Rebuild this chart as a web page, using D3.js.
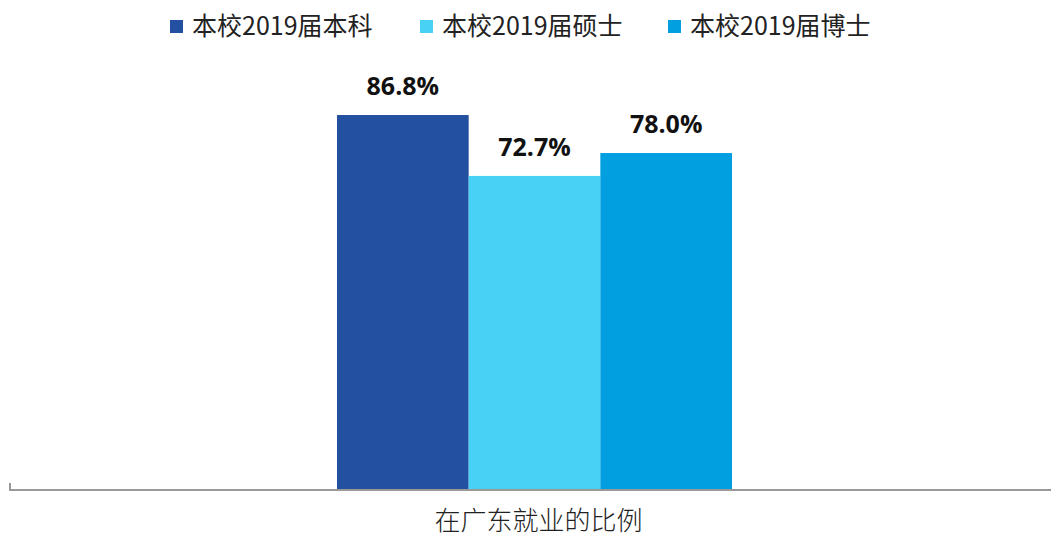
<!DOCTYPE html>
<html>
<head>
<meta charset="utf-8">
<script src="https://cdn.jsdelivr.net/npm/d3@7"></script>
<style>
  body { margin: 0; background: #fff; }
  svg { display: block; }
</style>
</head>
<body>
<svg></svg>
<script>
// Data
var categories = ["在广东就业的比例"];
var seriesNames = ["本校2019届本科", "本校2019届硕士", "本校2019届博士"];
var seriesValues = [86.8, 72.7, 78.0];
var colors = ["#2350a0", "#48d1f3", "#029fe0"];

var w = 1051, h = 540;
var left = 10, right = 1051, baseY = 490, topY = 58;

var svg = d3.select("svg").attr("width", w).attr("height", h);

// Scales
var x0 = d3.scaleBand().domain(categories).range([left + 8, right])
    .paddingInner(0).paddingOuter(0.8076);
var x1 = d3.scaleBand().domain(seriesNames).range([0, x0.bandwidth()]).padding(0);
var y = d3.scaleLinear().domain([0, 100]).range([baseY, topY]);

var group = svg.append("g").attr("transform", "translate(" + x0(categories[0]) + ",0)");

// Bars
group.selectAll("rect")
    .data(seriesValues)
    .enter().append("rect")
    .attr("x", function (d, i) { return x1(seriesNames[i]); })
    .attr("y", function (d) { return y(d); })
    .attr("width", x1.bandwidth())
    .attr("height", function (d) { return y(0) - y(d); })
    .attr("fill", function (d, i) { return colors[i]; });

// Value labels
group.selectAll(".val")
    .data(seriesValues)
    .enter().append("text")
    .attr("class", "val")
    .attr("x", function (d, i) { return x1(seriesNames[i]) + x1.bandwidth() / 2; })
    .attr("y", function (d) { return y(d) - 20; })
    .attr("text-anchor", "middle")
    .attr("font-family", "'Open Sans', 'Noto Sans', sans-serif")
    .attr("font-weight", "bold")
    .attr("font-size", "25px")
    .attr("fill", "#111")
    .text(function (d) { return d.toFixed(1) + "%"; });

// X axis
var xAxis = d3.axisBottom(x0).tickSize(0).tickSizeOuter(0).tickPadding(22);
var axisG = svg.append("g")
    .attr("transform", "translate(0," + baseY + ")")
    .call(xAxis);
axisG.select(".domain").remove();
axisG.append("path")
    .attr("d", "M" + left + ",-7V0H" + right)
    .attr("fill", "none")
    .attr("stroke", "#999")
    .attr("stroke-width", 2);
axisG.selectAll("text")
    .attr("dx", 4)
    .attr("font-family", "'Noto Sans CJK SC', sans-serif")
    .attr("font-weight", 300)
    .attr("font-size", "26px")
    .attr("fill", "#222");

// Legend
var legendX = [170, 420, 668];
var legend = svg.append("g");
var items = legend.selectAll("g")
    .data(seriesNames)
    .enter().append("g")
    .attr("transform", function (d, i) { return "translate(" + legendX[i] + ",20)"; });
items.append("rect")
    .attr("width", 13).attr("height", 13)
    .attr("fill", function (d, i) { return colors[i]; });
items.append("text")
    .attr("x", 22).attr("y", 15)
    .attr("font-family", "'Noto Sans CJK SC', sans-serif")
    .attr("font-size", "25px")
    .attr("fill", "#222")
    .text(function (d) { return d; });
</script>
</body>
</html>
